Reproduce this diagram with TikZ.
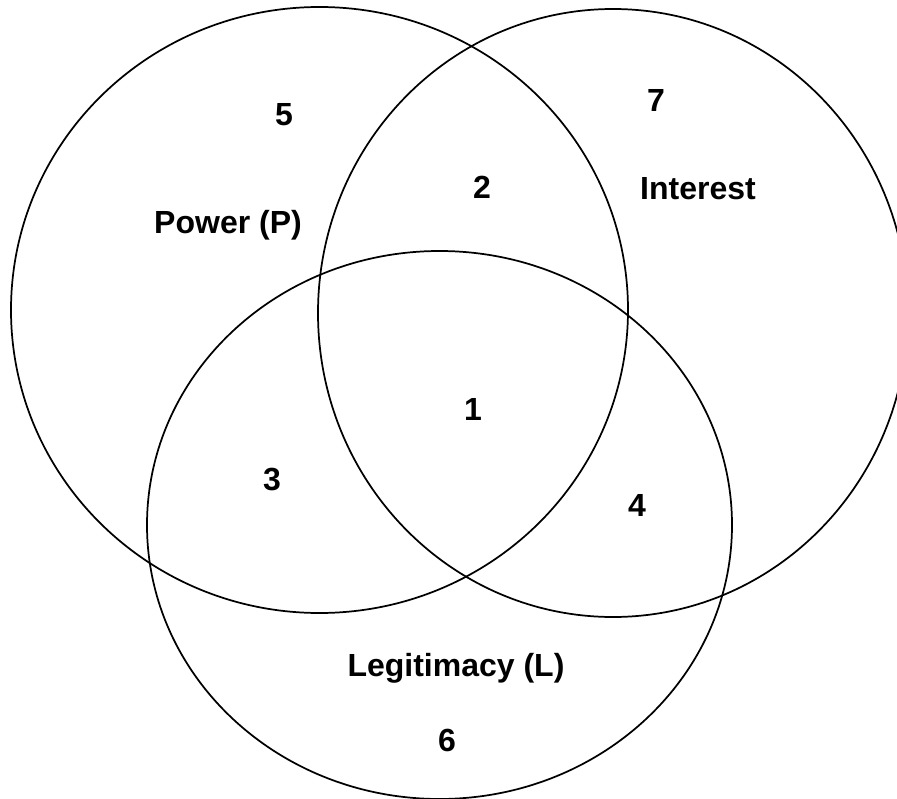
\documentclass[tikz,border=0pt]{standalone}
\usepackage{fontspec}
\setmainfont{Liberation Sans}
\begin{document}
\begin{tikzpicture}[x=0.75pt,y=-0.75pt,
  ring/.style={draw=black,line width=1.3pt},
  lbl/.style={font=\bfseries\fontsize{24}{28}\selectfont,inner sep=0pt}]
\useasboundingbox (0,0) rectangle (897,799);
\clip (0,0) rectangle (897,799);
\draw[ring] (319.5,310) ellipse [x radius=308.5, y radius=303];
\draw[ring] (613,313) ellipse [x radius=295, y radius=304];
\draw[ring] (439.5,525) ellipse [x radius=292.5, y radius=274];
\node[lbl] (n5) at (284,115) {5};
\node[lbl] (pw) at (228,225) {Power (P)};
\node[lbl] (n2) at (482,187) {2};
\node[lbl] (n7) at (656,100) {7};
\node[lbl] (int) at (698,189) {Interest};
\node[lbl] (n1) at (473,409) {1};
\node[lbl] (n3) at (272,480) {3};
\node[lbl] (n4) at (637,505) {4};
\node[lbl] (leg) at (456,668) {Legitimacy (L)};
\node[lbl] (n6) at (447,740) {6};
\end{tikzpicture}
\end{document}
